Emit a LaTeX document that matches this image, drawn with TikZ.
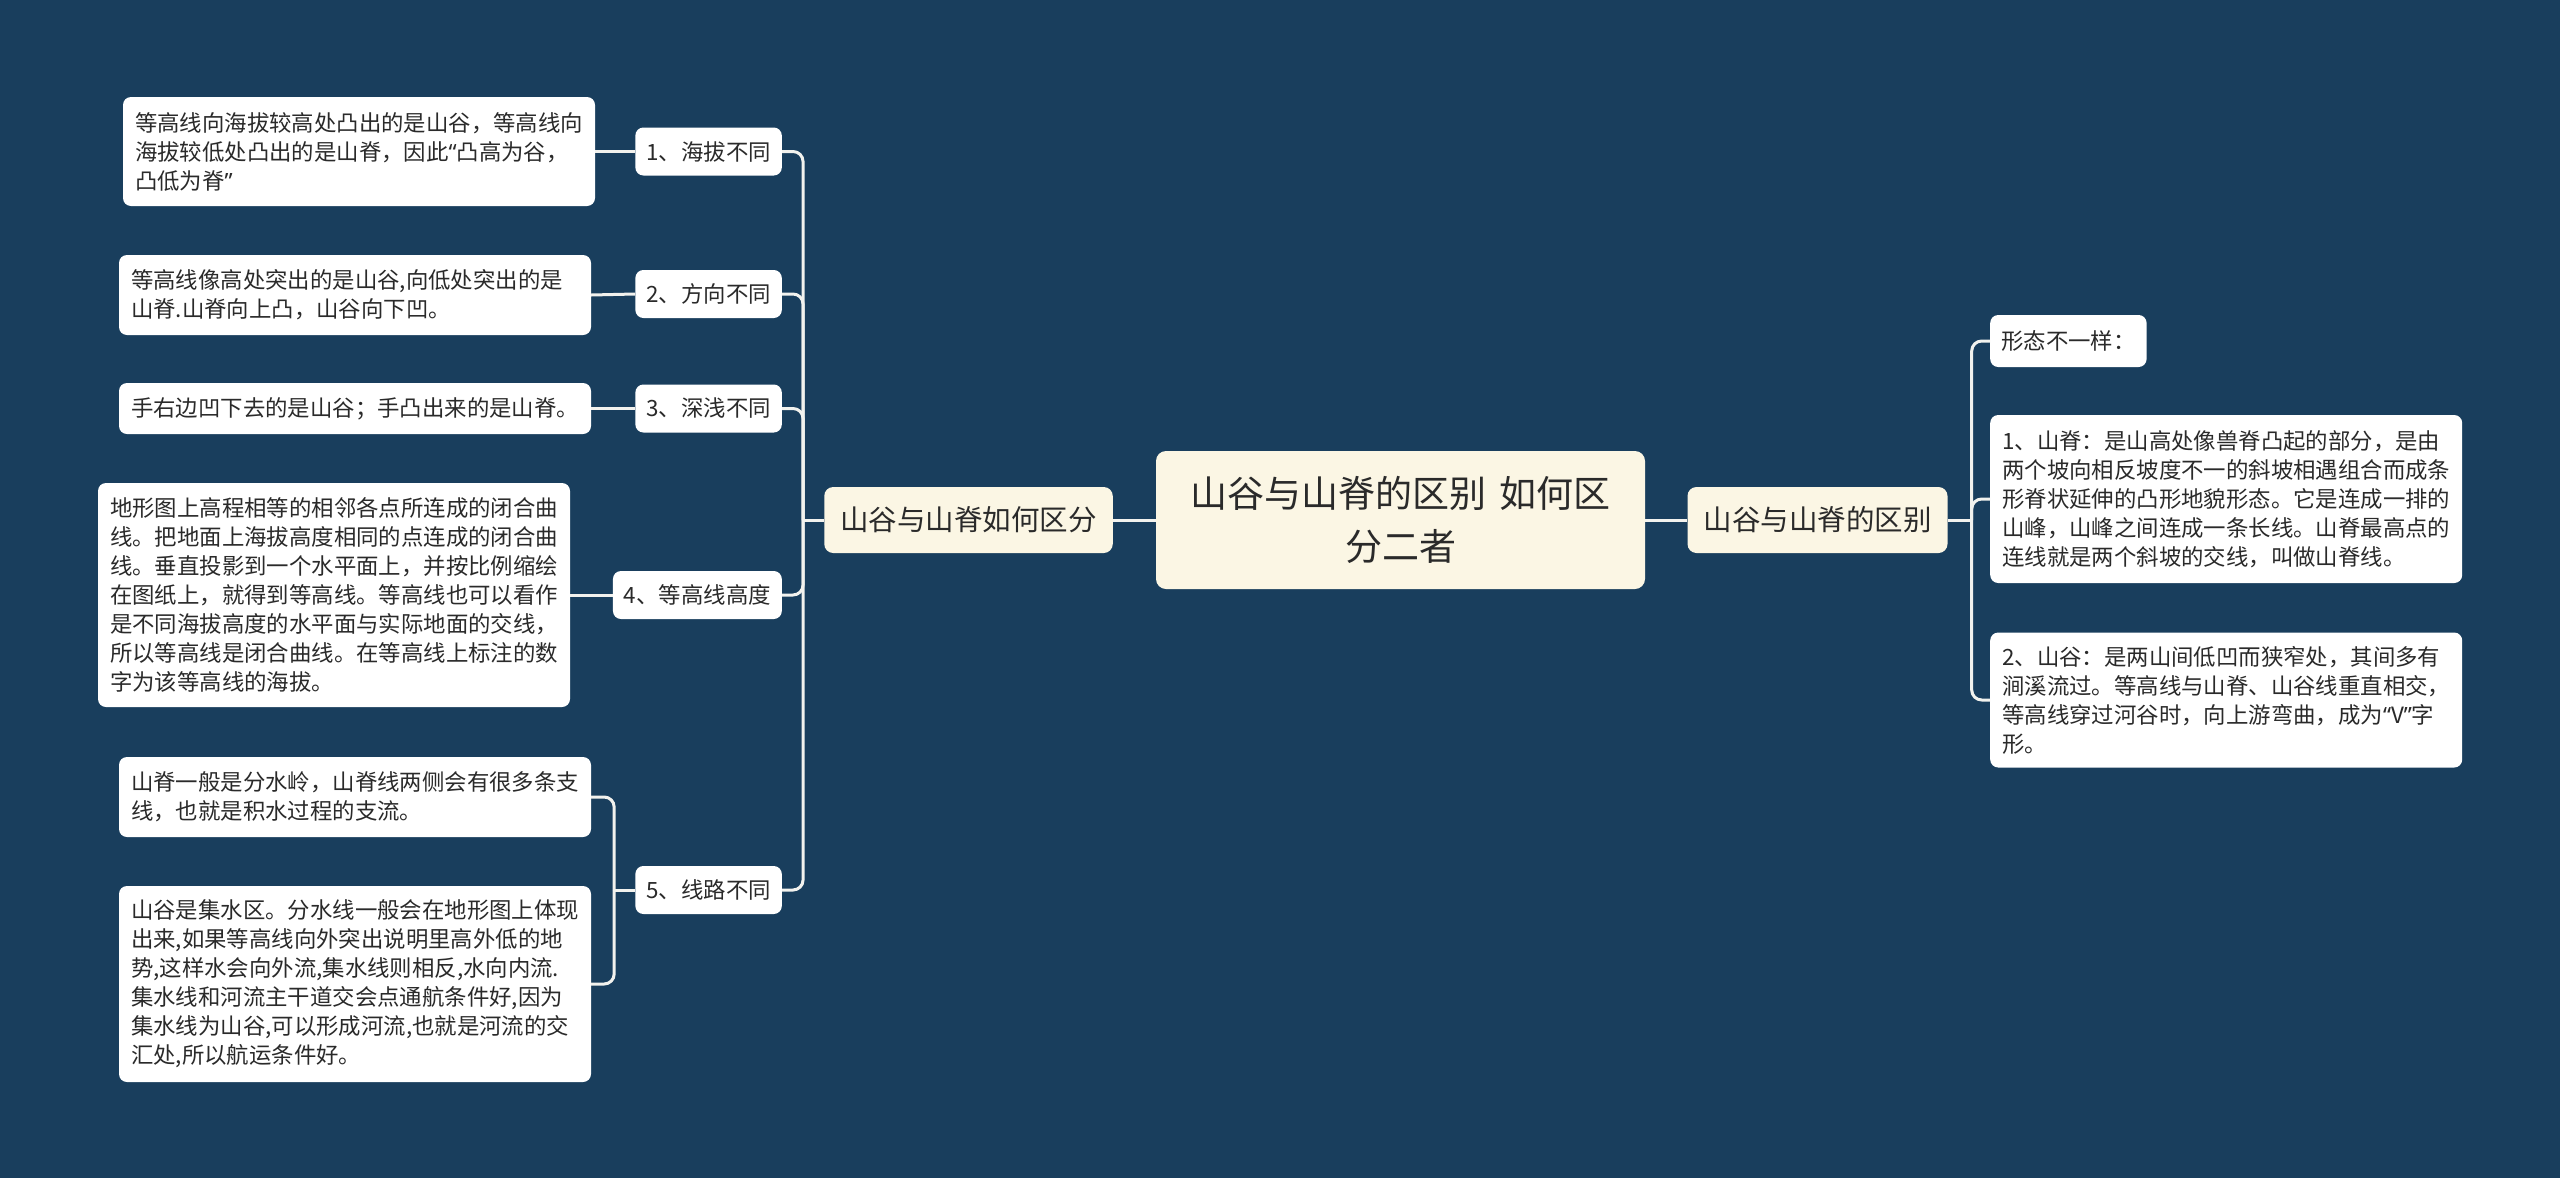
\documentclass[tikz,border=0pt]{standalone}
\usepackage{fontspec}
\setmainfont{Noto Sans CJK SC}
\newfontfamily\qf{Noto Sans}
\newcommand{\myLQ}{{\qf “}}
\newcommand{\myRQ}{{\qf ”}}
\definecolor{bgc}{HTML}{193E5D}
\definecolor{creamc}{HTML}{FBF6E4}
\definecolor{txtc}{HTML}{2A2A2A}
\definecolor{linec}{HTML}{F2F2EE}
\begin{document}
\begin{tikzpicture}[x=1pt,y=-1pt,
 conn/.style={draw=linec, line width=3pt, rounded corners=10pt},
 leaf/.style={fill=white, rounded corners=8pt, text width=448pt, inner xsep=12pt, inner ysep=4pt, align=left, font=\fontsize{22.4}{29}\selectfont, text=txtc},
 sub/.style={fill=white, rounded corners=8pt, inner xsep=11pt, inner ysep=0pt, minimum height=48pt, font=\fontsize{22.4}{29}\selectfont, text=txtc},
 mainb/.style={fill=creamc, rounded corners=9pt, inner xsep=16pt, inner ysep=0pt, minimum height=66pt, font=\fontsize{28.5}{34}\selectfont, text=txtc},
 rootb/.style={fill=creamc, rounded corners=10pt, text width=457pt, inner xsep=16pt, align=center, minimum height=138pt, font=\fontsize{37}{53}\selectfont, text=txtc}]

\fill[bgc] (0,0) rectangle (2560,1178);
\useasboundingbox (0,0) rectangle (2560,1178);

% root and main branches
\node[rootb] (root) at (1400.5,520) {山谷与山脊的区别 如何区\\分二者};
\node[mainb] (L) at (968.5,520) {山谷与山脊如何区分};
\node[mainb] (R) at (1817.5,520) {山谷与山脊的区别};

% left sub nodes
\node[sub, anchor=east] (n1) at (782,151.5) {1、海拔不同};
\node[sub, anchor=east] (n2) at (782,294) {2、方向不同};
\node[sub, anchor=east] (n3) at (782,408.5) {3、深浅不同};
\node[sub, anchor=east] (n4) at (782,595) {4、等高线高度};
\node[sub, anchor=east] (n5) at (782,890) {5、线路不同};

% left leaves
\node[leaf, minimum height=109pt] (l1) at (359,151.5) {等高线向海拔较高处凸出的是山谷，等高线向\\海拔较低处凸出的是山脊，因此\myLQ 凸高为谷，\\凸低为脊\myRQ};
\node[leaf, minimum height=80pt] (l2) at (355,295) {等高线像高处突出的是山谷,向低处突出的是\\山脊.山脊向上凸，山谷向下凹。};
\node[leaf, minimum height=51pt] (l3) at (355,408.5) {手右边凹下去的是山谷；手凸出来的是山脊。};
\node[leaf, minimum height=224pt] (l4) at (334,595) {地形图上高程相等的相邻各点所连成的闭合曲\\线。把地面上海拔高度相同的点连成的闭合曲\\线。垂直投影到一个水平面上，并按比例缩绘\\在图纸上，就得到等高线。等高线也可以看作\\是不同海拔高度的水平面与实际地面的交线，\\所以等高线是闭合曲线。在等高线上标注的数\\字为该等高线的海拔。};
\node[leaf, minimum height=80pt] (l5a) at (355,797) {山脊一般是分水岭，山脊线两侧会有很多条支\\线，也就是积水过程的支流。};
\node[leaf, minimum height=196pt] (l5b) at (355,984) {山谷是集水区。分水线一般会在地形图上体现\\出来,如果等高线向外突出说明里高外低的地\\势,这样水会向外流,集水线则相反,水向内流.\\集水线和河流主干道交会点通航条件好,因为\\集水线为山谷,可以形成河流,也就是河流的交\\汇处,所以航运条件好。};

% right leaves
\node[sub, anchor=west, minimum height=52pt] (r0) at (1990,341) {形态不一样：};
\node[leaf, anchor=west, minimum height=168pt] (r1) at (1990,499) {1、山脊：是山高处像兽脊凸起的部分，是由\\两个坡向相反坡度不一的斜坡相遇组合而成条\\形脊状延伸的凸形地貌形态。它是连成一排的\\山峰，山峰之间连成一条长线。山脊最高点的\\连线就是两个斜坡的交线，叫做山脊线。};
\node[leaf, anchor=west, minimum height=135pt] (r2) at (1990,700) {2、山谷：是两山间低凹而狭窄处，其间多有\\涧溪流过。等高线与山脊、山谷线重直相交，\\等高线穿过河谷时，向上游弯曲，成为\myLQ V\myRQ 字\\形。};

% connectors
\draw[conn] (root.west) -- (L.east);
\draw[conn] (root.east) -- (R.west);

\coordinate (tL) at ([xshift=-21pt]L.west);
\draw[conn] (L.west) -- (tL);
\foreach \n in {n1,n2,n3,n4,n5} \draw[conn] (tL) |- (\n.east);

\draw[conn] (n1.west) -- (l1.east);
\draw[conn] (n2.west) -- (l2.east);
\draw[conn] (n3.west) -- (l3.east);
\draw[conn] (n4.west) -- (l4.east);

\coordinate (t5) at ([xshift=-21pt]n5.west);
\draw[conn] (n5.west) -- (t5);
\draw[conn] (t5) |- (l5a.east);
\draw[conn] (t5) |- (l5b.east);

\coordinate (tR) at ([xshift=24pt]R.east);
\draw[conn] (R.east) -- (tR);
\foreach \n in {r0,r1,r2} \draw[conn] (tR) |- (\n.west);
\end{tikzpicture}
\end{document}
